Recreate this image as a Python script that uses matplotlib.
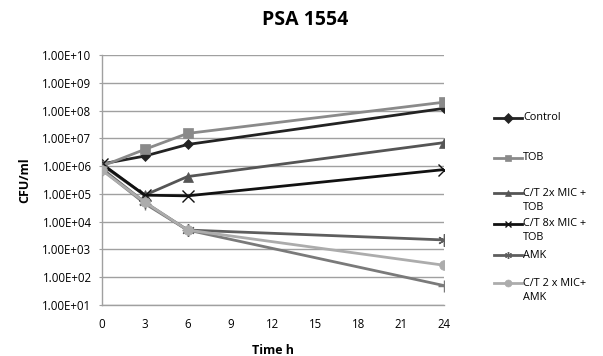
import matplotlib
matplotlib.use("Agg")
import matplotlib.pyplot as plt
from matplotlib.lines import Line2D
from matplotlib.ticker import FixedLocator, FuncFormatter, NullLocator

plt.rcParams['font.family'] = ['Open Sans', 'DejaVu Sans']

time_h = [0, 3, 6, 24]
control = [1.2e6, 2.3e6, 6.0e6, 1.2e8]
tob = [1.0e6, 4.0e6, 1.5e7, 2.0e8]
ct2_tob = [1.1e6, 9.0e4, 4.2e5, 7.0e6]
ct8_tob = [1.2e6, 9.0e4, 8.5e4, 7.5e5]
amk = [8.0e5, 5.0e4, 5.0e3, 2.2e3]
ct2_amk = [7.0e5, 5.0e4, 5.0e3, 2.7e2]
extra = [7.5e5, 4.5e4, 5.0e3, 5.0e1]

series = [
    ("Control", control, "#232323", "D", 5, 2.0),
    ("TOB", tob, "#8a8a8a", "s", 7, 2.0),
    ("C/T 2x MIC +\nTOB", ct2_tob, "#555555", "^", 7, 2.0),
    ("C/T 8x MIC +\nTOB", ct8_tob, "#111111", "x", 8, 2.0),
    ("AMK", amk, "#5e5e5e", (6, 2, 0), 9, 2.0),
    ("C/T 2 x MIC+\nAMK", ct2_amk, "#acacac", "o", 7, 2.0),
]
extra_style = ("#7a7a7a", "+", 9, 2.0)

xticks = [0, 3, 6, 9, 12, 15, 18, 21, 24]
yticks = [1e1, 1e2, 1e3, 1e4, 1e5, 1e6, 1e7, 1e8, 1e9, 1e10]

fig = plt.figure(figsize=(6.03, 3.56), dpi=100)
ax = fig.add_axes([102/603, 1-305/356, (444-102)/603, (305-55)/356])

c, m, ms, lw = extra_style
ax.plot(time_h, extra, color=c, marker=m, markersize=ms, linewidth=lw,
        markeredgewidth=1.0, zorder=2)

handles = []
for name, vals, c, m, ms, lw in series:
    mew = 1.0 if m in ("x", (6, 2, 0)) else 0.5
    ax.plot(time_h, vals, color=c, marker=m, markersize=ms, linewidth=lw,
            markeredgewidth=mew, markeredgecolor=c, zorder=3)
    handles.append((name, c, m, mew))

ax.set_yscale("log")
ax.set_ylim(1e1, 1e10)
ax.set_xlim(0, 24)
ax.yaxis.set_major_locator(FixedLocator(yticks))
ax.yaxis.set_minor_locator(NullLocator())
ax.yaxis.set_major_formatter(FuncFormatter(lambda v, p: "%.2E" % v))
ax.set_xticks(xticks)
ax.set_xticklabels([str(t) for t in xticks])
ax.grid(axis="y", color="#a0a0a0", linewidth=1.0)
ax.set_axisbelow(True)
for s in ("top", "right"):
    ax.spines[s].set_visible(False)
for s in ("left", "bottom"):
    ax.spines[s].set_color("#a0a0a0")
    ax.spines[s].set_linewidth(1.0)
ax.tick_params(axis="y", length=2.5, color="#a0a0a0", labelsize=8.3, pad=5)
ax.tick_params(axis="x", length=0, labelsize=8.3, pad=9)

ax.set_xlabel("Time h", fontsize=9, fontweight="bold", labelpad=10)
ax.set_ylabel("CFU/ml", fontsize=9, fontweight="bold", labelpad=8)
fig.text(305/603, 1-20/356, "PSA 1554", fontsize=14, fontweight="bold",
         ha="center", va="center")

# manual legend
leg_y = [118, 158, 193, 224, 255, 283]
line_gap = 14
for (name, c, m, mew), y in zip(handles, leg_y):
    yf = 1 - y/356
    fig.add_artist(Line2D([494/603, 522/603], [yf, yf], color=c, linewidth=2.0,
                          transform=fig.transFigure))
    fig.add_artist(Line2D([507.5/603], [yf], color=c, marker=m, markersize=5,
                          markeredgewidth=mew, markeredgecolor=c,
                          transform=fig.transFigure))
    for i, part in enumerate(name.split("\n")):
        fig.text(523/603, 1 - (y + i*line_gap)/356, part, fontsize=7.8,
                 ha="left", va="center", transform=fig.transFigure)

fig.savefig("out.png", dpi=100)
